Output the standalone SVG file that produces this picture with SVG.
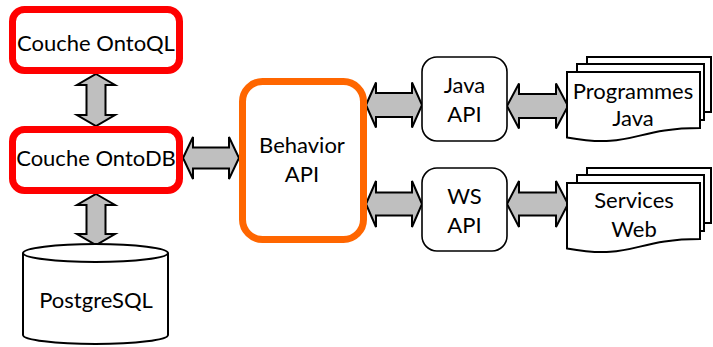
<svg xmlns="http://www.w3.org/2000/svg" width="713" height="347" viewBox="0 0 713 347">
<style>
text{font-family:Lato,"Open Sans","Liberation Sans",sans-serif;font-size:22px;fill:#000;text-anchor:middle}
.arr{fill:#BFBFBF;stroke:#000;stroke-width:2;stroke-linejoin:miter}
.red{fill:#fff;stroke:#FF0000;stroke-width:7}
.plain{fill:#fff;stroke:#000;stroke-width:1.6}
.doc{fill:#fff;stroke:#000;stroke-width:2}
</style>
<rect width="713" height="347" fill="#fff"/>
<g id="connectors">
<polygon class="arr" points="96,74 115,85 105.5,85 105.5,115 115,115 96,126 77,115 86.5,115 86.5,85 77,85"/>
<polygon class="arr" points="96,194 115,205 105.5,205 105.5,234 115,234 96,245 77,234 86.5,234 86.5,205 77,205"/>
<polygon class="arr" points="183,158 193,137 193,147.5 229,147.5 229,137 239,158 229,179 229,168.5 193,168.5 193,179"/>
<polygon class="arr" points="366,105 376,82.5 376,93 412,93 412,82.5 422,105 412,127.5 412,117 376,117 376,127.5"/>
<polygon class="arr" points="507,106 519,83.5 519,94 556,94 556,83.5 568,106 556,128.5 556,118 519,118 519,128.5"/>
<polygon class="arr" points="366,204 376,181 376,192.5 412,192.5 412,181 422,204 412,227 412,215.5 376,215.5 376,227"/>
<polygon class="arr" points="507,204 519,181 519,192.5 556,192.5 556,181 568,204 556,227 556,215.5 519,215.5 519,227"/>
</g>
<g id="ontoql">
<rect class="red" x="12.5" y="9.5" width="167" height="61" rx="12"/>
<text x="96" y="51">Couche OntoQL</text>
</g>
<g id="ontodb">
<rect class="red" x="12.5" y="129.5" width="167" height="61" rx="12"/>
<text x="96" y="166">Couche OntoDB</text>
</g>
<g id="postgresql">
<path class="doc" d="M23,253 V335 A72.5,9 0 0 0 168,335 V253"/>
<ellipse class="doc" cx="95.5" cy="253" rx="72.5" ry="9"/>
<text x="96" y="308">PostgreSQL</text>
</g>
<g id="behavior">
<rect x="242.5" y="81.5" width="121" height="158" rx="20" fill="#fff" stroke="#FF6600" stroke-width="7"/>
<text x="302" y="153">Behavior</text>
<text x="302" y="182">API</text>
</g>
<g id="javaapi">
<rect class="plain" x="422" y="57" width="85" height="84" rx="15"/>
<text x="464.5" y="93">Java</text>
<text x="464.5" y="122">API</text>
</g>
<g id="wsapi">
<rect class="plain" x="422" y="168" width="85" height="83" rx="15"/>
<text x="464.5" y="204">WS</text>
<text x="464.5" y="233">API</text>
</g>
<g id="programmes">
<rect class="doc" x="587" y="57" width="124" height="55"/>
<rect class="doc" x="577" y="64" width="127" height="56"/>
<path class="doc" d="M567,72 H700 V128 C633,128 633,149.5 567,137.4 Z"/>
<text x="633" y="99">Programmes</text>
<text x="633" y="126">Java</text>
</g>
<g id="services">
<rect class="doc" x="587" y="168" width="124" height="55"/>
<rect class="doc" x="577" y="175" width="127" height="56"/>
<path class="doc" d="M567,183 H700 V239 C633,239 633,260.5 567,248.4 Z"/>
<text x="634" y="208">Services</text>
<text x="634" y="237">Web</text>
</g>
</svg>
